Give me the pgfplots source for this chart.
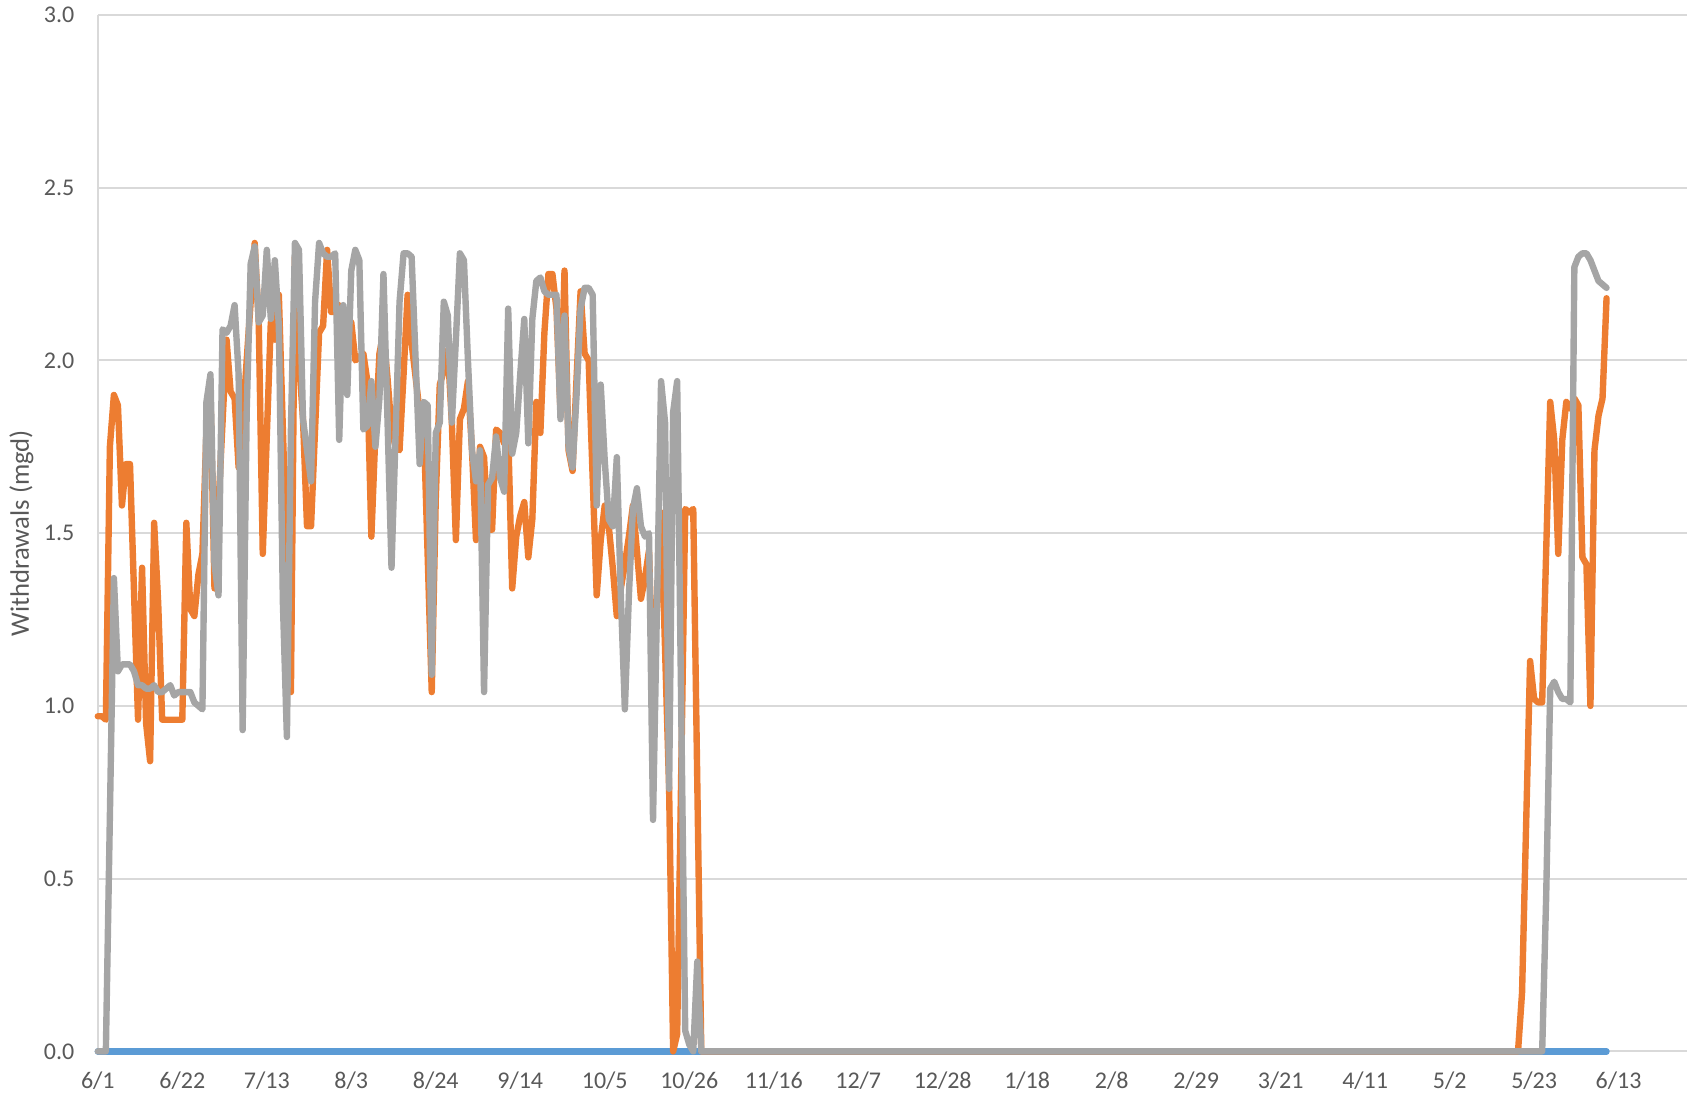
\documentclass[border=0pt]{standalone}
\usepackage{fontspec}
\setmainfont{Carlito}
\usepackage{pgfplots}
\pgfplotsset{compat=1.18}
\definecolor{cblue}{HTML}{5B9BD5}
\definecolor{corange}{HTML}{ED7D31}
\definecolor{cgray}{HTML}{A5A5A5}
\definecolor{gridc}{HTML}{D9D9D9}
\definecolor{txt}{HTML}{595959}
\begin{document}
\begin{tikzpicture}
\begin{axis}[
  at={(36.7pt,18.75pt)}, anchor=south west,
  scale only axis, width=596.3pt, height=388.9pt,
  set layers, clip=false,
  xmin=0, xmax=395, ymin=0, ymax=3,
  axis x line*=bottom, axis y line*=left,
  axis line style={draw=gridc, line width=0.75pt},
  ymajorgrids, major grid style={draw=gridc, line width=0.75pt},
  major tick length=0pt,
  xtick={0,21,...,378},
  xticklabels={6/1,6/22,7/13,8/3,8/24,9/14,10/5,10/26,11/16,12/7,12/28,1/18,2/8,2/29,3/21,4/11,5/2,5/23,6/13},
  ytick={0,0.5,...,3},
  /pgf/number format/assume math mode=true,
  yticklabel style={/pgf/number format/fixed, /pgf/number format/fixed zerofill, /pgf/number format/precision=1},
  ticklabel style={font=\fontsize{9}{10}\selectfont, text=txt},
  xticklabel style={anchor=base, inner sep=0pt, yshift=-14.1pt},
  yticklabel style={anchor=east, inner sep=0pt, xshift=-8.6pt},
  ylabel={Withdrawals (mgd)},
  ylabel style={font=\fontsize{10}{12}\selectfont, text=txt, at={(axis description cs:-0.048,0.5)}, anchor=center},
  every axis plot/.append style={line width=2.4pt, line join=round, line cap=round},
]
\addplot[cblue] coordinates {(0,0) (375,0)};
\addplot[corange] coordinates {
(0,0.97) (1,0.97) (2,0.96) (3,1.75) (4,1.90) (5,1.87) (6,1.58) (7,1.70) (8,1.70) (9,1.33)
(10,0.96) (11,1.40) (12,0.95) (13,0.84) (14,1.53) (15,1.30) (16,0.96) (17,0.96) (18,0.96) (19,0.96)
(20,0.96) (21,0.96) (22,1.53) (23,1.28) (24,1.26) (25,1.38) (26,1.44) (27,1.80) (28,1.90) (29,1.34)
(30,1.58) (31,1.82) (32,2.06) (33,1.91) (34,1.89) (35,1.69) (36,1.82) (37,2.00) (38,2.17) (39,2.34)
(40,2.11) (41,1.44) (42,1.78) (43,2.11) (44,2.06) (45,2.19) (46,1.80) (47,1.42) (48,1.04) (49,2.30)
(50,2.00) (51,1.83) (52,1.52) (53,1.52) (54,1.80) (55,2.08) (56,2.10) (57,2.32) (58,2.14) (59,2.14)
(60,2.16) (61,2.14) (62,2.12) (63,2.11) (64,2.00) (65,2.01) (66,2.02) (67,1.94) (68,1.49) (69,1.79)
(70,2.02) (71,2.08) (72,1.95) (73,1.80) (74,1.75) (75,1.74) (76,1.96) (77,2.19) (78,2.05) (79,1.95)
(80,1.85) (81,1.82) (82,1.43) (83,1.04) (84,1.60) (85,1.93) (86,1.97) (87,2.03) (88,1.82) (89,1.48)
(90,1.83) (91,1.86) (92,1.94) (93,1.74) (94,1.48) (95,1.75) (96,1.72) (97,1.51) (98,1.51) (99,1.80)
(100,1.79) (101,1.76) (102,1.79) (103,1.34) (104,1.49) (105,1.55) (106,1.59) (107,1.43) (108,1.54) (109,1.88)
(110,1.79) (111,2.08) (112,2.25) (113,2.25) (114,2.15) (115,1.85) (116,2.26) (117,1.74) (118,1.68) (119,1.95)
(120,2.20) (121,2.02) (122,2.00) (123,1.66) (124,1.32) (125,1.48) (126,1.58) (127,1.52) (128,1.40) (129,1.26)
(130,1.34) (131,1.41) (132,1.49) (133,1.58) (134,1.45) (135,1.31) (136,1.37) (137,1.45) (138,1.05) (139,1.30)
(140,1.56) (141,1.16) (142,0.76) (143,0) (144,0.05) (145,0.80) (146,1.57) (147,1.56) (148,1.57) (149,0.78)
(150,0) (353,0) (354,0.17) (355,0.65) (356,1.13) (357,1.02) (358,1.01) (359,1.01) (360,1.45) (361,1.88)
(362,1.77) (363,1.44) (364,1.77) (365,1.88) (366,1.86) (367,1.89) (368,1.87) (369,1.43) (370,1.41) (371,1.00)
(372,1.74) (373,1.84) (374,1.89) (375,2.18)
};
\addplot[cgray] coordinates {
(0,0) (1,0) (2,0) (3,0.68) (4,1.37) (5,1.10) (6,1.12) (7,1.12) (8,1.12) (9,1.10)
(10,1.06) (11,1.06) (12,1.05) (13,1.05) (14,1.06) (15,1.04) (16,1.04) (17,1.05) (18,1.06) (19,1.03)
(20,1.04) (21,1.04) (22,1.04) (23,1.04) (24,1.01) (25,1.00) (26,0.99) (27,1.88) (28,1.96) (29,1.41)
(30,1.32) (31,2.09) (32,2.08) (33,2.10) (34,2.16) (35,1.96) (36,0.93) (37,1.85) (38,2.28) (39,2.33)
(40,2.11) (41,2.13) (42,2.32) (43,2.12) (44,2.29) (45,2.10) (46,1.30) (47,0.91) (48,1.80) (49,2.34)
(50,2.32) (51,1.83) (52,1.74) (53,1.65) (54,2.17) (55,2.34) (56,2.31) (57,2.30) (58,2.30) (59,2.31)
(60,1.77) (61,2.16) (62,1.90) (63,2.26) (64,2.32) (65,2.29) (66,1.80) (67,1.81) (68,1.94) (69,1.75)
(70,1.89) (71,2.25) (72,1.83) (73,1.40) (74,1.78) (75,2.17) (76,2.31) (77,2.31) (78,2.30) (79,2.00)
(80,1.70) (81,1.88) (82,1.87) (83,1.09) (84,1.79) (85,1.82) (86,2.17) (87,2.13) (88,1.82) (89,2.06)
(90,2.31) (91,2.29) (92,2.00) (93,1.74) (94,1.65) (95,1.74) (96,1.04) (97,1.64) (98,1.66) (99,1.78)
(100,1.66) (101,1.62) (102,2.15) (103,1.73) (104,1.79) (105,1.96) (106,2.12) (107,1.76) (108,2.12) (109,2.23)
(110,2.24) (111,2.20) (112,2.19) (113,2.19) (114,2.19) (115,1.83) (116,2.13) (117,1.75) (118,1.69) (119,1.90)
(120,2.15) (121,2.21) (122,2.21) (123,2.19) (124,1.58) (125,1.93) (126,1.71) (127,1.54) (128,1.52) (129,1.72)
(130,1.32) (131,0.99) (132,1.32) (133,1.57) (134,1.63) (135,1.52) (136,1.49) (137,1.50) (138,0.67) (139,1.30)
(140,1.94) (141,1.82) (142,0.76) (143,1.85) (144,1.94) (145,1.00) (146,0.06) (147,0.02) (148,0) (149,0.26)
(150,0) (359,0) (360,0.45) (361,1.05) (362,1.07) (363,1.04) (364,1.02) (365,1.02) (366,1.01) (367,2.27)
(368,2.30) (369,2.31) (370,2.31) (371,2.29) (372,2.26) (373,2.23) (374,2.22) (375,2.21)
};
\end{axis}
\path (0,0) rectangle (633pt,413.25pt);
\end{tikzpicture}
\end{document}
